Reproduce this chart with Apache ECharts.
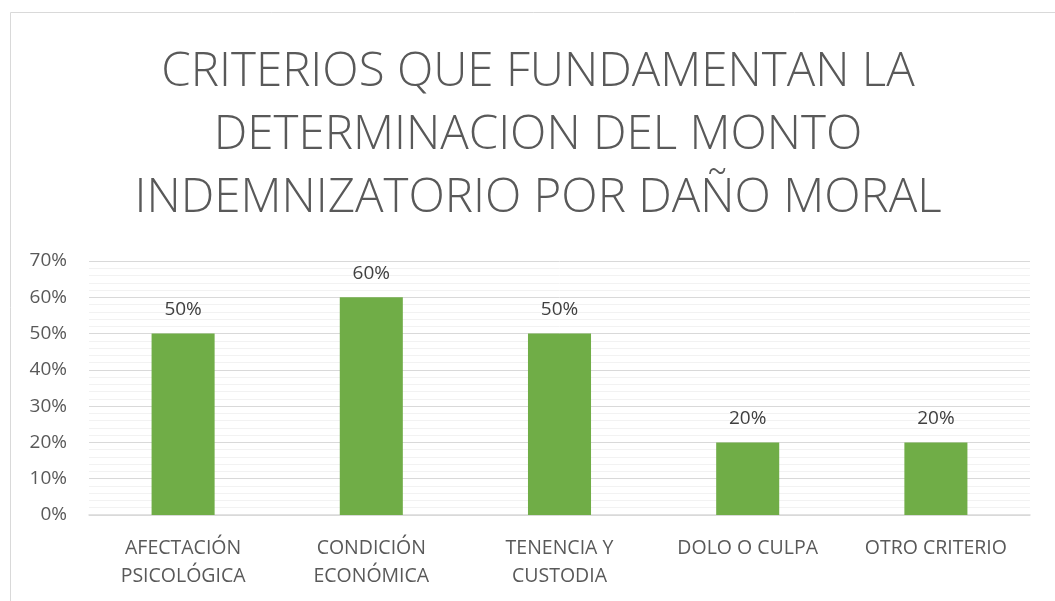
<!DOCTYPE html>
<html>
<head>
<meta charset="utf-8">
<script src="https://cdn.jsdelivr.net/npm/echarts@6/dist/echarts.min.js"></script>
<style>
  html, body { margin: 0; padding: 0; background: #fff; }
  #chart { width: 1055px; height: 601px; }
</style>
</head>
<body>
<div id="chart"></div>
<script>
// datos del gráfico
var categorias = ['AFECTACIÓN\nPSICOLÓGICA', 'CONDICIÓN\nECONÓMICA', 'TENENCIA Y\nCUSTODIA', 'DOLO O CULPA', 'OTRO CRITERIO']
var porcentajes = [50, 60, 50, 20, 20]
var tituloLineas = ['CRITERIOS QUE FUNDAMENTAN LA', 'DETERMINACION DEL MONTO', 'INDEMNIZATORIO POR DAÑO MORAL']

var chart = echarts.init(document.getElementById('chart'))

chart.setOption({
  animation: false,
  textStyle: { fontFamily: 'Open Sans' },
  graphic: [{
    type: 'rect',
    shape: { x: 10.5, y: 12.5, width: 1100, height: 700 },
    style: { fill: 'none', stroke: '#d9d9d9', lineWidth: 1 },
    silent: true
  }],
  title: {
    text: tituloLineas.join('\n'),
    left: 533,
    textAlign: 'center',
    top: 36,
    textStyle: {
      fontFamily: 'Open Sans',
      fontWeight: 300,
      fontSize: 47.5,
      lineHeight: 63,
      color: '#595959'
    }
  },
  grid: {
    left: 89,
    right: 25,
    top: 261,
    bottom: 86
  },
  xAxis: {
    type: 'category',
    data: categorias,
    axisLine: { lineStyle: { color: '#d9d9d9', width: 1.5 } },
    axisTick: { show: false },
    axisLabel: {
      color: '#595959',
      fontSize: 19.5,
      lineHeight: 28,
      margin: 19,
      interval: 0
    }
  },
  yAxis: {
    type: 'value',
    min: 0,
    max: 70,
    interval: 10,
    axisLine: { show: false },
    axisTick: { show: false },
    axisLabel: {
      color: '#595959',
      fontSize: 19,
      margin: 22,
      formatter: '{value}%'
    },
    splitLine: { lineStyle: { color: '#d9d9d9', width: 1 } },
    minorTick: { show: false, splitNumber: 5 },
    minorSplitLine: { show: true, lineStyle: { color: '#f2f2f2', width: 1 } }
  },
  series: [{
    type: 'bar',
    data: porcentajes,
    barWidth: '33.5%',
    itemStyle: { color: '#70ad47' },
    label: {
      show: true,
      position: 'top',
      distance: 14,
      color: '#404040',
      fontSize: 19,
      formatter: '{c}%'
    }
  }]
})
</script>
</body>
</html>
